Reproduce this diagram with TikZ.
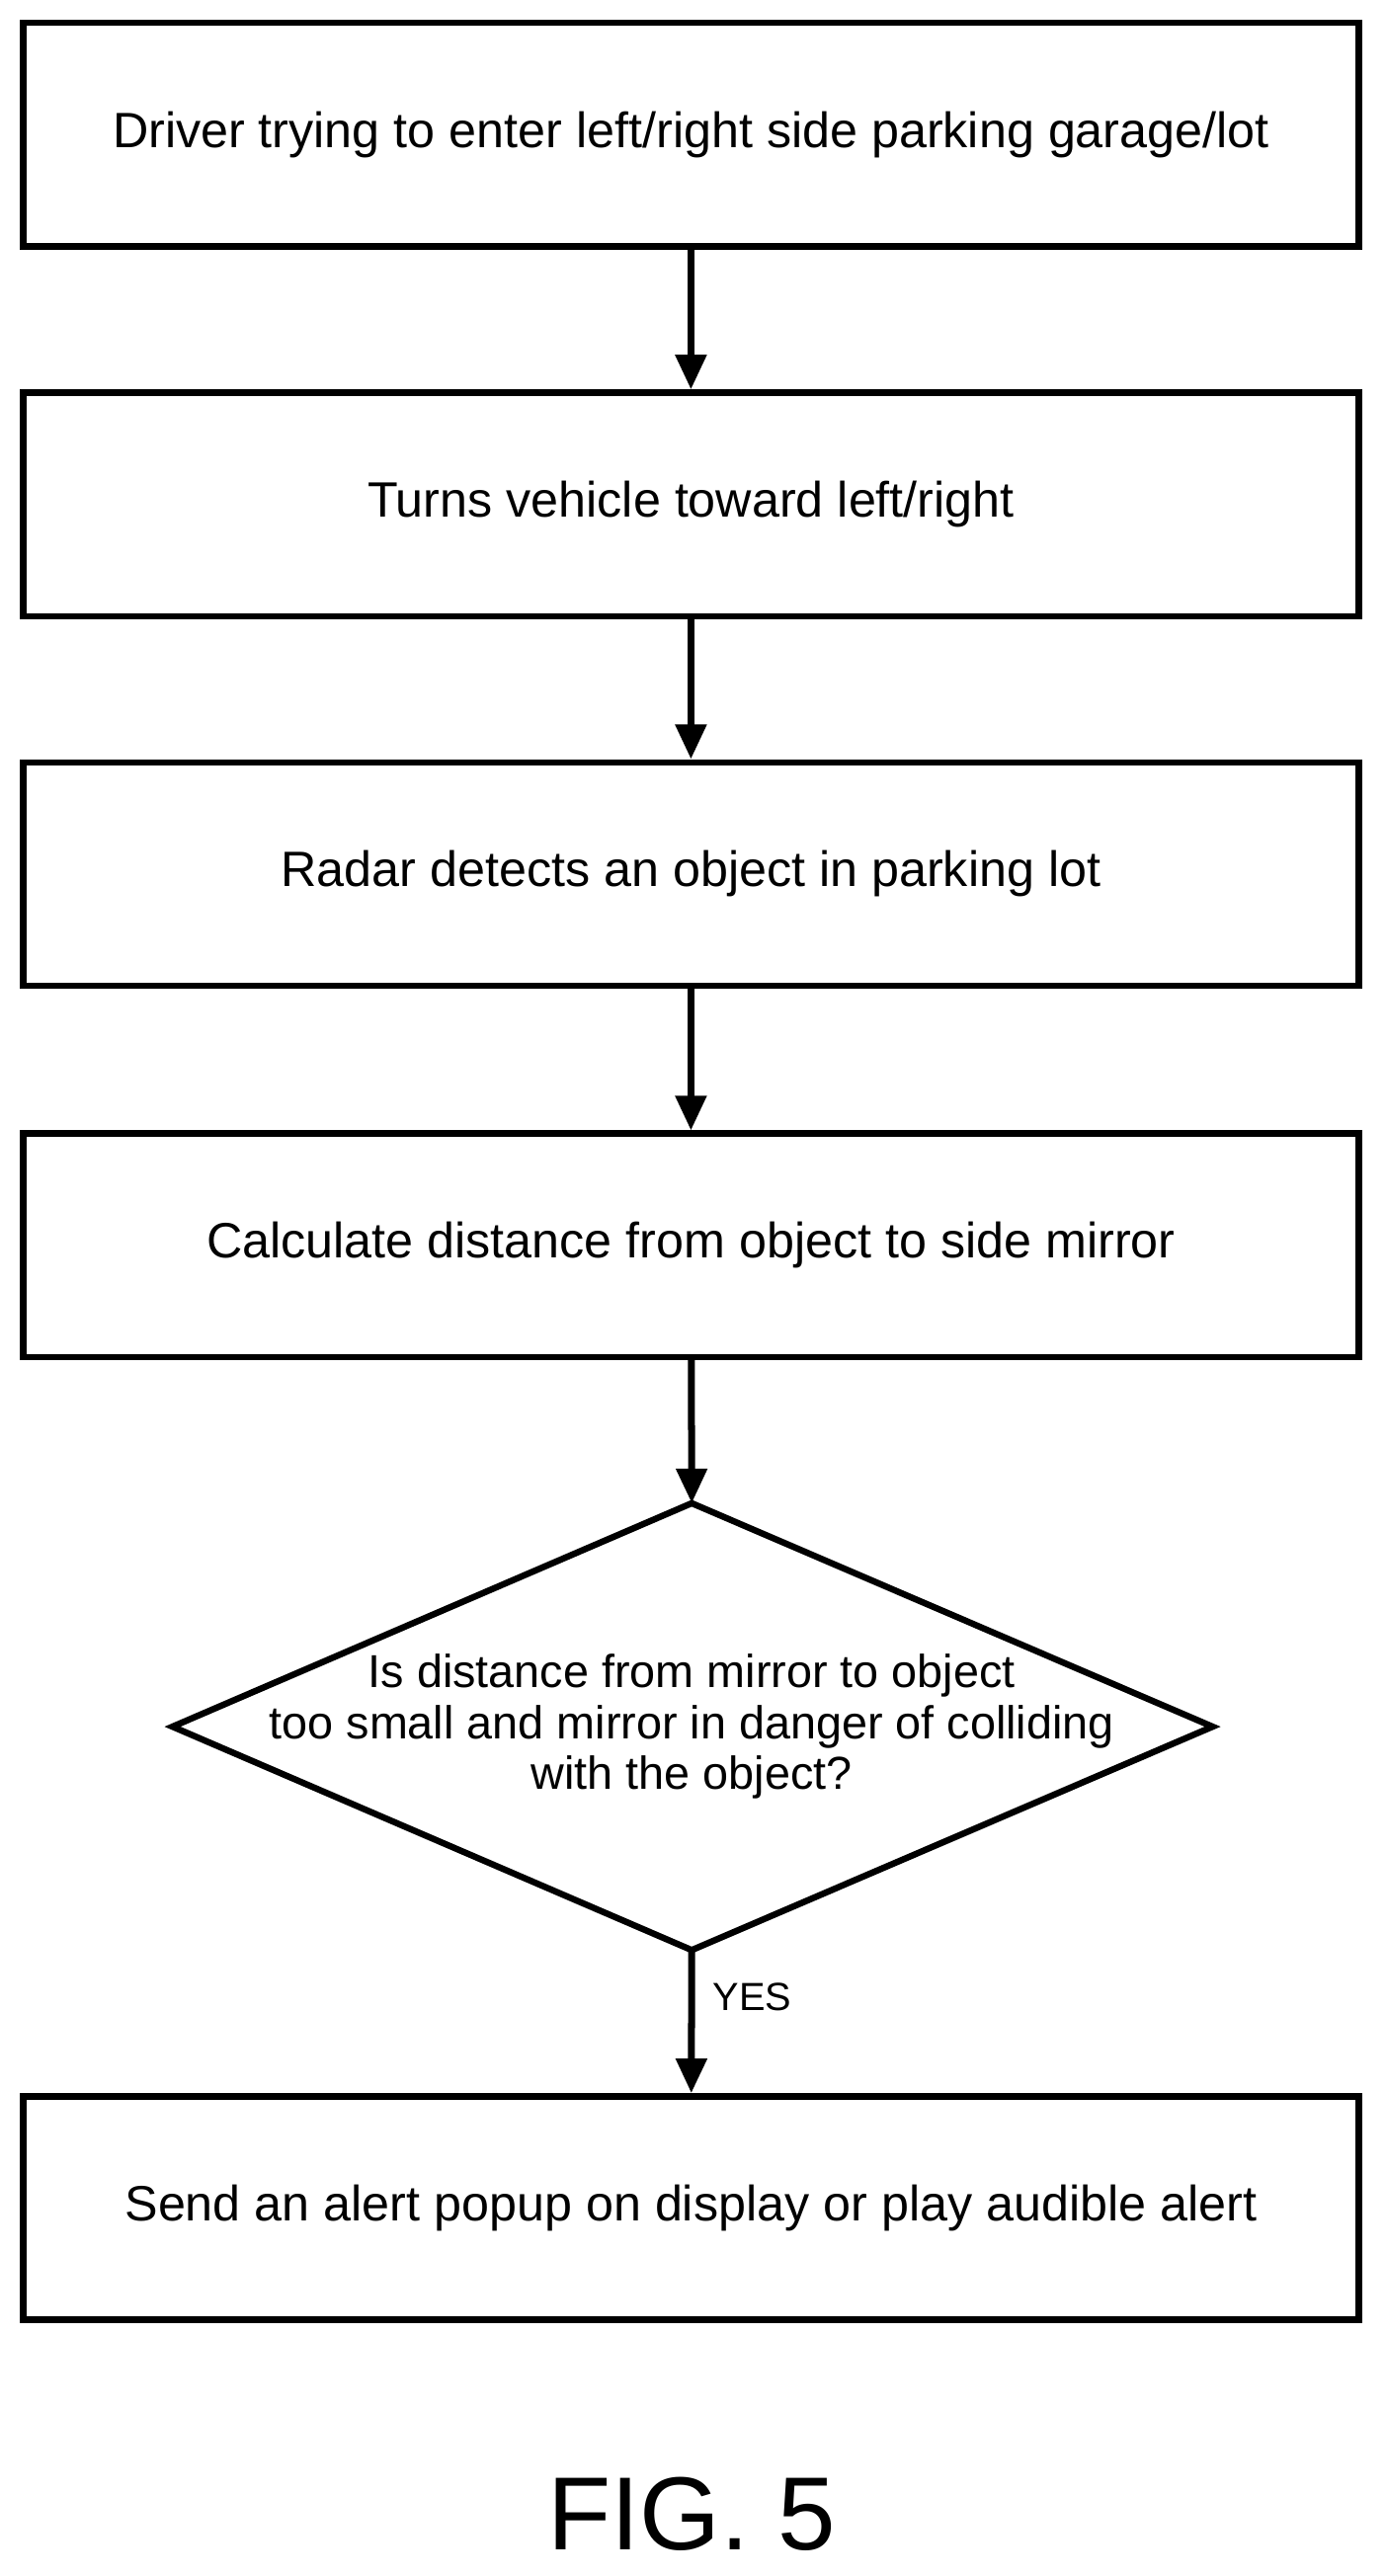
\documentclass[tikz,border=0pt]{standalone}
\usepackage{fontspec}
\setmainfont{Liberation Sans}
\usetikzlibrary{shapes.geometric,arrows.meta}
\begin{document}
\begin{tikzpicture}[x=0.05cm,y=-0.05cm,
  box/.style={draw,line width=5.5pt,minimum width=813*0.05cm,minimum height=136*0.05cm,font=\fontsize{43}{50}\selectfont},
  arr/.style={line width=6pt,-{Triangle[length=30pt,width=26pt]}}]
\useasboundingbox (0,0) rectangle (843,1568);
\node[box] (a) at (420.5,82) {Driver trying to enter left/right side parking garage/lot};
\node[box] (b) at (420.5,307) {Turns vehicle toward left/right};
\node[box] (c) at (420.5,532) {Radar detects an object in parking lot};
\node[box] (d) at (420.5,758) {Calculate distance from object to side mirror};
\draw[line width=5.5pt] (421,915) -- (738,1051) -- (421,1187) -- (105,1051) -- cycle;
\coordinate (et) at (421,915);
\coordinate (eb) at (421,1187);
\node[align=center,font=\fontsize{40}{44}\selectfont] (e) at (421,1051) {Is distance from mirror to object\\too small and mirror in danger of colliding\\with the object?};
\node[box] (f) at (420.5,1344) {Send an alert popup on display or play audible alert};
\node[font=\fontsize{90}{100}\selectfont] (g) at (421,1530) {FIG. 5};
\draw[arr] (a) -- (b);
\draw[arr] (b) -- (c);
\draw[arr] (c) -- (d);
\draw[arr] (d) -- (et);
\draw[arr] (eb) -- (f) node[pos=0.33,right=12pt,font=\fontsize{34}{40}\selectfont] {YES};
\end{tikzpicture}
\end{document}
